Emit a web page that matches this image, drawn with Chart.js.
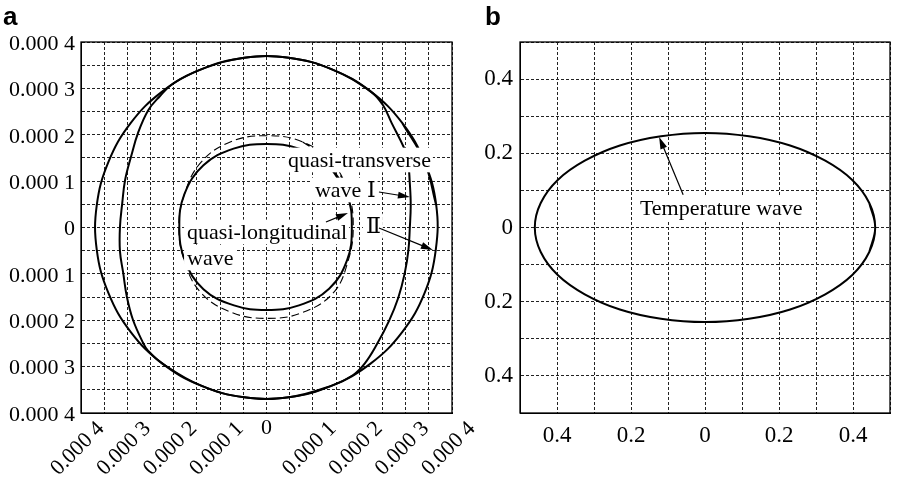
<!DOCTYPE html>
<html>
<head>
<meta charset="utf-8">
<script src="https://cdn.jsdelivr.net/npm/chart.js@4.4.1/dist/chart.umd.min.js"></script>
<style>
  html, body { margin: 0; padding: 0; background: #fff; }
  #wrap { position: relative; width: 898px; height: 480px; overflow: hidden; }
  #boxA { position: absolute; left: 0; top: 0; width: 490px; height: 480px; }
  #boxB { position: absolute; left: 460px; top: 0; width: 438px; height: 480px; }
</style>
</head>
<body>
<div id="wrap">
  <div id="boxA"><canvas id="chartA"></canvas></div>
  <div id="boxB"><canvas id="chartB"></canvas></div>
</div>
<script>
"use strict";

// panel a values are read in units of 1e-4
const UNIT = 1e-4;

// quasi-transverse wave II (outer curve)
const waveIIX = [3.41, 2.93, 2.25, 1.41, 0.48, -0.48, -1.41, -2.25, -2.93, -3.41, -3.66, -3.66,
                 -3.41, -2.93, -2.25, -1.41, -0.48, 0.48, 1.41, 2.25, 2.93, 3.41, 3.65, 3.66];
const waveIIY = [1.41, 2.25, 2.93, 3.41, 3.66, 3.66, 3.41, 2.93, 2.25, 1.41, 0.48, -0.48,
                 -1.41, -2.25, -2.93, -3.41, -3.66, -3.66, -3.41, -2.93, -2.25, -1.41, -0.48, 0.48];

// quasi-transverse wave I (shares top and bottom arcs with wave II)
const waveIX = [3.05, 2.96, 2.70, 2.51, 2.25, 1.41, 0.48, -0.48, -1.41, -2.02, -2.30, -2.55, -2.77,
                -2.92, -3.05, -3.11, -3.16, -3.16, -3.09, -3.01, -2.88, -2.66, -2.56, -2.25, -1.41,
                -0.48, 0.48, 1.41, 1.87, 2.12, 2.38, 2.64, 2.84, 2.98, 3.06, 3.09, 3.11, 3.09];
const waveIY = [1.45, 1.73, 2.25, 2.64, 2.93, 3.41, 3.66, 3.66, 3.41, 3.10, 2.83, 2.53, 2.04,
                1.53, 1.02, 0.53, 0.01, -0.51, -0.98, -1.50, -1.99, -2.49, -2.65, -2.93, -3.41,
                -3.66, -3.66, -3.41, -3.18, -2.93, -2.52, -2.02, -1.52, -0.99, -0.49, -0.01, 0.48, 0.96];

// quasi-longitudinal wave (solid)
const longX = [1.33, 0.70, 0, -0.71, -1.36, -1.77, -1.88, -1.76, -1.36, -0.70, 0, 0.70, 1.35, 1.74, 1.84, 1.74];
const longY = [1.33, 1.70, 1.80, 1.70, 1.34, 0.72, 0, -0.71, -1.33, -1.68, -1.78, -1.68, -1.32, -0.70, 0, 0.70];

// dashed companion curve
const dashX = [1.41, 0.77, 0, -0.77, -1.41, -1.77, -1.89, -1.77, -1.42, -0.76, 0, 0.76, 1.44, 1.76, 1.87, 1.77];
const dashY = [1.41, 1.85, 1.98, 1.85, 1.41, 0.72, 0, -0.72, -1.40, -1.83, -1.96, -1.84, -1.41, -0.72, 0, 0.73];

// panel b: temperature wave
const tempX = [0.46, 0.444, 0.398, 0.325, 0.230, 0.119, 0, -0.119, -0.230, -0.325, -0.398, -0.444,
               -0.46, -0.444, -0.398, -0.325, -0.230, -0.119, 0, 0.119, 0.230, 0.325, 0.398, 0.444];
const tempY = [0, 0.066, 0.128, 0.180, 0.221, 0.246, 0.255, 0.246, 0.221, 0.180, 0.128, 0.066,
               0, -0.066, -0.128, -0.180, -0.221, -0.246, -0.255, -0.246, -0.221, -0.180, -0.128, -0.066];

const SERIF = '"Liberation Serif", "DejaVu Serif", "Times New Roman", serif';

// turn two arrays into a closed list of points
function loop(xs, ys, k) {
  const pts = xs.map((v, i) => ({ x: v * k, y: ys[i] * k }));
  return [pts[pts.length - 1], ...pts, pts[0], pts[1]];
}

function curve(data, width, dash) {
  return {
    data: data,
    showLine: true,
    borderColor: '#000',
    borderWidth: width,
    borderDash: dash || [],
    pointRadius: 0,
    tension: 0.4,
    fill: false
  };
}

// text with a white box behind it
function note(ctx, text, px, py, size) {
  ctx.font = size + 'px ' + SERIF;
  const w = ctx.measureText(text).width;
  ctx.fillStyle = '#fff';
  ctx.fillRect(px - 3, py - size * 0.88, w + 5, size * 1.12);
  ctx.fillStyle = '#000';
  ctx.textAlign = 'left';
  ctx.textBaseline = 'alphabetic';
  ctx.fillText(text, px, py);
}

function arrow(ctx, x1, y1, x2, y2) {
  const ang = Math.atan2(y2 - y1, x2 - x1);
  const len = 12, half = 3.5;
  ctx.strokeStyle = '#000';
  ctx.lineWidth = 1.2;
  ctx.beginPath();
  ctx.moveTo(x1, y1);
  ctx.lineTo(x2 - Math.cos(ang) * len * 0.8, y2 - Math.sin(ang) * len * 0.8);
  ctx.stroke();
  ctx.fillStyle = '#000';
  ctx.beginPath();
  ctx.moveTo(x2, y2);
  ctx.lineTo(x2 - Math.cos(ang) * len - Math.sin(ang) * half, y2 - Math.sin(ang) * len + Math.cos(ang) * half);
  ctx.lineTo(x2 - Math.cos(ang) * len + Math.sin(ang) * half, y2 - Math.sin(ang) * len - Math.cos(ang) * half);
  ctx.closePath();
  ctx.fill();
}

function frame(ctx, a) {
  ctx.save();
  ctx.strokeStyle = '#000';
  ctx.lineWidth = 1.3;
  ctx.setLineDash([]);
  ctx.strokeRect(a.left, a.top, a.right - a.left, a.bottom - a.top);
  ctx.restore();
}

function letter(ctx, t, x, y) {
  ctx.save();
  ctx.font = 'bold 26px "Liberation Sans", Arial, sans-serif';
  ctx.fillStyle = '#000';
  ctx.textAlign = 'left';
  ctx.textBaseline = 'alphabetic';
  ctx.fillText(t, x, y);
  ctx.restore();
}

const gridStyle = { color: '#222', lineWidth: 1, drawTicks: false };
const borderStyle = { display: true, color: '#000', width: 1, dash: [3, 2] };

// fixed axis sizes, no extra room asked for the labels
function fixSize(w, h) {
  return s => {
    if (w) s.width = w;
    if (h) s.height = h;
    s.paddingLeft = 0; s.paddingRight = 0; s.paddingTop = 0; s.paddingBottom = 0;
  };
}

// tick labels "0.000 N" every 1e-4, grid every 5e-5
function labelA(v) {
  const n = Math.round(v / (UNIT / 2));
  if (n % 2 !== 0) return '';
  const k = Math.abs(n / 2);
  return k === 0 ? '0' : '0.000 ' + k;
}

const notesA = {
  id: 'notesA',
  afterDatasetsDraw(chart) {
    const { ctx, chartArea, scales: { x, y } } = chart;
    const P = (u, v) => [x.getPixelForValue(u * UNIT), y.getPixelForValue(v * UNIT)];
    ctx.save();
    let p = P(0.463, 1.304); note(ctx, 'quasi-transverse', p[0], p[1], 22);
    p = P(1.045, 0.657); note(ctx, 'wave \u2160', p[0], p[1], 22);
    p = P(2.144, -0.119); note(ctx, '\u2161', p[0], p[1], 22);
    p = P(-1.713, -0.248); note(ctx, 'quasi-longitudinal', p[0], p[1], 22);
    p = P(-1.713, -0.808); note(ctx, 'wave', p[0], p[1], 22);
    let a = P(2.425, 0.765), b = P(3.093, 0.657); arrow(ctx, a[0], a[1], b[0], b[1]);
    a = P(2.425, -0.011); b = P(3.588, -0.485); arrow(ctx, a[0], a[1], b[0], b[1]);
    a = P(1.282, 0.119); b = P(1.756, 0.3125); arrow(ctx, a[0], a[1], b[0], b[1]);
    ctx.restore();
    frame(ctx, chartArea);
  },
  afterDraw(chart) {
    const { ctx, chartArea, scales: { x } } = chart;
    letter(ctx, 'a', 3, 25);
    ctx.save();
    ctx.font = '22px ' + SERIF;
    ctx.fillStyle = '#000';
    ctx.textAlign = 'center';
    ctx.textBaseline = 'top';
    ctx.fillText('0', x.getPixelForValue(0), chartArea.bottom + 4);
    ctx.restore();
  }
};

const notesB = {
  id: 'notesB',
  afterDatasetsDraw(chart) {
    const { ctx, chartArea, scales: { x, y } } = chart;
    ctx.save();
    note(ctx, 'Temperature wave', x.getPixelForValue(-0.176), y.getPixelForValue(0.034), 22);
    arrow(ctx, x.getPixelForValue(-0.059), y.getPixelForValue(0.088),
               x.getPixelForValue(-0.124), y.getPixelForValue(0.244));
    ctx.restore();
    frame(ctx, chartArea);
  },
  afterDraw(chart) {
    letter(chart.ctx, 'b', 25, 25);
  }
};

new Chart(document.getElementById('chartA').getContext('2d'), {
  type: 'scatter',
  data: {
    datasets: [
      curve(loop(waveIIX, waveIIY, UNIT), 2),
      curve(loop(waveIX, waveIY, UNIT), 2),
      curve(loop(longX, longY, UNIT), 2),
      curve(loop(dashX, dashY, UNIT), 1.1, [8, 4])
    ]
  },
  options: {
    responsive: true,
    maintainAspectRatio: false,
    animation: false,
    layout: { padding: { top: 42, right: 38, left: 0, bottom: 0 } },
    plugins: { legend: { display: false }, tooltip: { enabled: false } },
    scales: {
      x: {
        type: 'linear', min: -4 * UNIT, max: 4 * UNIT,
        afterFit: fixSize(0, 67),
        ticks: {
          stepSize: UNIT / 2, autoSkip: false, minRotation: 45, maxRotation: 45,
          labelOffset: 20, padding: 3, color: '#000',
          font: { family: SERIF, size: 22 },
          callback: v => (Math.round(v / UNIT * 2) === 0 ? '' : labelA(v))
        },
        grid: gridStyle, border: borderStyle
      },
      y: {
        type: 'linear', min: -4 * UNIT, max: 4 * UNIT,
        afterFit: fixSize(81, 0),
        ticks: {
          stepSize: UNIT / 2, autoSkip: false, padding: 6, labelOffset: 2, color: '#000',
          font: { family: SERIF, size: 22 },
          callback: labelA
        },
        grid: gridStyle, border: borderStyle
      }
    }
  },
  plugins: [notesA]
});

function labelB(v) {
  const n = Math.round(v * 10);
  if (n % 2 !== 0 || Math.abs(n) > 4) return '';
  return n === 0 ? '0' : (Math.abs(n) / 10).toFixed(1);
}

new Chart(document.getElementById('chartB').getContext('2d'), {
  type: 'scatter',
  data: { datasets: [curve(loop(tempX, tempY, 1), 2)] },
  options: {
    responsive: true,
    maintainAspectRatio: false,
    animation: false,
    layout: { padding: { top: 42, right: 8, left: 0, bottom: 0 } },
    plugins: { legend: { display: false }, tooltip: { enabled: false } },
    scales: {
      x: {
        type: 'linear', min: -0.5, max: 0.5,
        afterFit: fixSize(0, 67),
        ticks: {
          stepSize: 0.1, autoSkip: false, maxRotation: 0, minRotation: 0, padding: 9, color: '#000',
          font: { family: SERIF, size: 23 },
          callback: labelB
        },
        grid: gridStyle, border: borderStyle
      },
      y: {
        type: 'linear', min: -0.5, max: 0.5,
        afterFit: fixSize(60, 0),
        ticks: {
          stepSize: 0.1, autoSkip: false, padding: 7, color: '#000',
          font: { family: SERIF, size: 23 },
          callback: labelB
        },
        grid: gridStyle, border: borderStyle
      }
    }
  },
  plugins: [notesB]
});
</script>
</body>
</html>
